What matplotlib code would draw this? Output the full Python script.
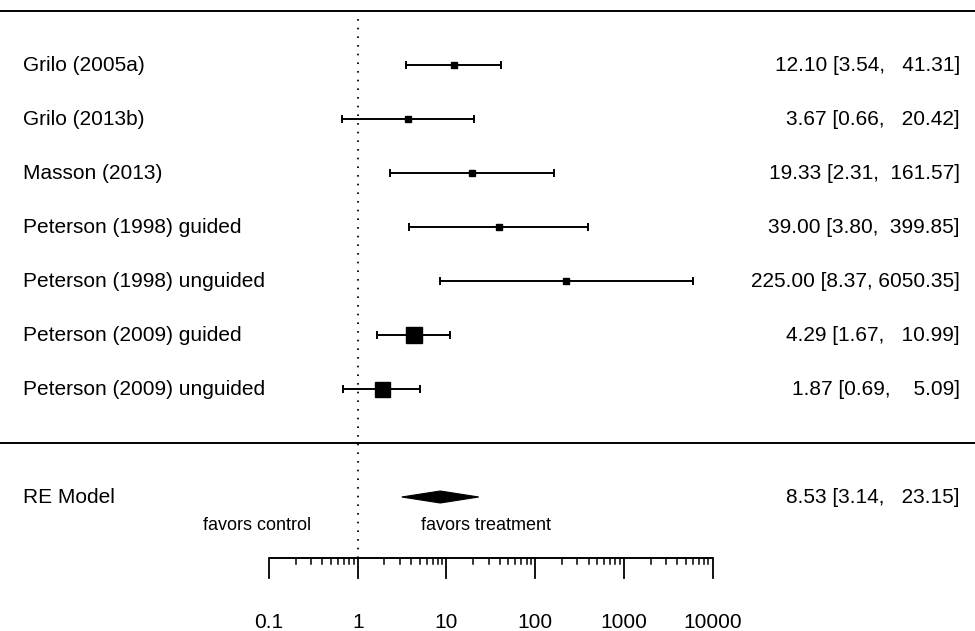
import numpy as np
import matplotlib
matplotlib.use("Agg")
import matplotlib.pyplot as plt
from matplotlib.patches import Polygon

# ---------------- data ----------------
studies = ["Grilo (2005a)", "Grilo (2013b)", "Masson (2013)",
           "Peterson (1998) guided", "Peterson (1998) unguided",
           "Peterson (2009) guided", "Peterson (2009) unguided"]
est = [12.10, 3.67, 19.33, 39.00, 225.00, 4.29, 1.87]
ci_lo = [3.54, 0.66, 2.31, 3.80, 8.37, 1.67, 0.69]
ci_hi = [41.31, 20.42, 161.57, 399.85, 6050.35, 10.99, 5.09]
marker_px = [6, 6, 6, 6, 6, 16, 15]

re_label = "RE Model"
re_est = 8.53
re_lo = 3.14
re_hi = 23.15

tick_vals = [0.1, 1, 10, 100, 1000, 10000]
tick_labels = ["0.1", "1", "10", "100", "1000", "10000"]
label_control = "favors control"
label_treat = "favors treatment"

# ---------------- layout ----------------
W, H, DPI = 975, 631, 100
X0, PXD = 357.7, 88.7           # pixel of log10=0, pixels per decade
Y0, PXR = 443.0, 54.0           # pixel of row 0, pixels per row

def lx(px):
    return 10 ** ((px - X0) / PXD)

def ry(py):
    return (Y0 - py) / PXR

fig = plt.figure(figsize=(W / DPI, H / DPI), dpi=DPI)
ax = fig.add_axes([0, 0, 1, 1])
ax.set_xscale("log")
ax.set_xlim(lx(0), lx(W))
ax.set_ylim(ry(H), ry(0))
ax.axis("off")

FONT = "Liberation Sans"
FS = 15
BASE = 5.8 / PXR   # baseline offset below row centre
k = len(studies)
rows = np.arange(k, 0, -1)

# horizontal rules
ax.axhline(k + 1, color="black", lw=1.4)
ax.axhline(0, color="black", lw=1.4)

# reference line
axis_row = ry(558)
ax.plot([1, 1], [axis_row, k + 1], color="black", lw=1.3,
        linestyle=(0, (0.9, 3.9)))

# studies
for r, name, e, lo, hi, ms in zip(rows, studies, est, ci_lo, ci_hi, marker_px):
    ax.errorbar([e], [r], xerr=[[e - lo], [hi - e]], fmt="none",
                ecolor="black", elinewidth=1.4, capsize=2.9, capthick=1.4)
    ax.plot([e], [r], marker="s", color="black", markersize=ms * 72 / DPI,
            linestyle="none")
    ax.text(lx(23), r - BASE, name, ha="left", va="baseline", fontsize=FS, family=FONT)

w_up = max(len(f"{v:.2f}") for v in ci_hi + [re_hi])

def annot(e, lo, hi):
    return f"{e:.2f} [{lo:.2f}, {hi:>{w_up}.2f}]"

for r, e, lo, hi in zip(rows, est, ci_lo, ci_hi):
    ax.text(lx(960), r - BASE, annot(e, lo, hi), ha="right", va="baseline",
            fontsize=FS, family=FONT)

# summary diamond
re_row = -1
dh = 6 / PXR
diamond = Polygon([[re_lo, re_row], [re_est, re_row + dh],
                   [re_hi, re_row], [re_est, re_row - dh]],
                  closed=True, facecolor="black", edgecolor="black", lw=0.8)
ax.add_patch(diamond)
ax.text(lx(23), re_row - BASE, re_label, ha="left", va="baseline", fontsize=FS, family=FONT)
ax.text(lx(960), re_row - BASE, annot(re_est, re_lo, re_hi), ha="right", va="baseline",
        fontsize=FS, family=FONT)

# favors labels
ax.text(lx(256.7), ry(530), label_control, ha="center", va="baseline",
        fontsize=13, family=FONT)
ax.text(lx(486.0), ry(530), label_treat, ha="center", va="baseline",
        fontsize=13, family=FONT)

# x axis
ax.plot([tick_vals[0], tick_vals[-1]], [axis_row, axis_row], color="black", lw=1.4,
        solid_capstyle="butt")
maj_len = 20 / PXR
min_len = 6 / PXR
for tv, tl in zip(tick_vals, tick_labels):
    ax.plot([tv, tv], [axis_row, axis_row - maj_len], color="black", lw=1.3)
    ax.text(tv, ry(628), tl, ha="center", va="baseline", fontsize=FS, family=FONT)
for tv in tick_vals[:-1]:
    for m in range(2, 10):
        v = tv * m
        ax.plot([v, v], [axis_row, axis_row - min_len], color="black", lw=1.1)

fig.savefig("out.png", dpi=DPI)
